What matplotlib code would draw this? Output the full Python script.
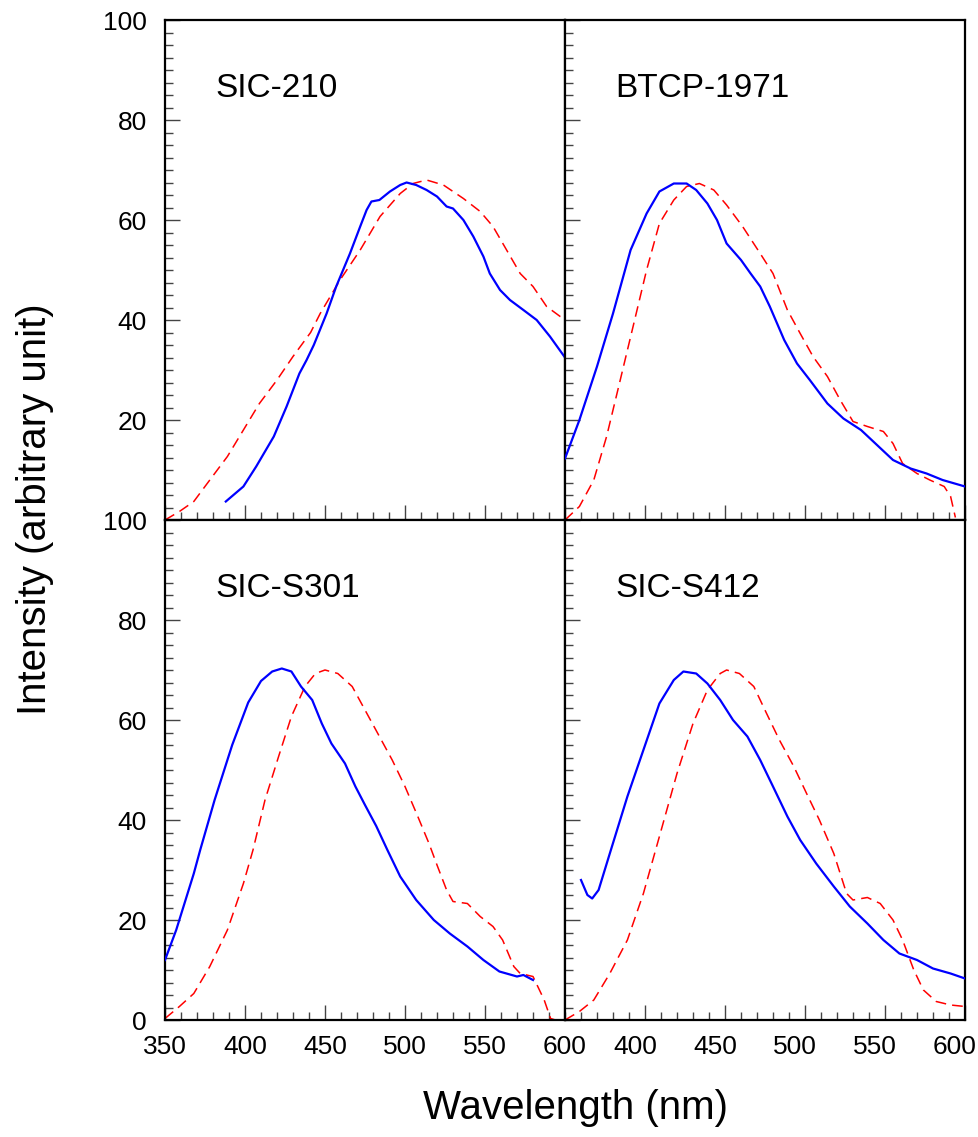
import numpy as np
import matplotlib
matplotlib.use("Agg")
import matplotlib.pyplot as plt
from matplotlib.ticker import MultipleLocator, FixedLocator
from matplotlib.transforms import ScaledTranslation

plt.rcParams['font.family'] = ['Liberation Sans', 'DejaVu Sans']

# Panel names
names = ['SIC-210', 'BTCP-1971', 'SIC-S301', 'SIC-S412']

# SIC-210: measured (blue) and reference (red) spectra
sic210_wl = [388, 399, 407, 418, 426, 434, 438.5, 443, 451, 457, 465.6, 472, 476, 479, 484,
             490.6, 497, 501, 507, 513.5, 520, 526, 530, 536.5, 542.7, 549, 553, 559.4,
             565.6, 574, 582.3, 590.6, 600]
sic210_i = [3.7, 6.7, 10.7, 16.7, 22.7, 29.3, 32, 35, 41.3, 46.7, 53.3, 58.7, 62, 63.7, 64,
            65.7, 67, 67.5, 67, 66, 64.7, 62.7, 62.3, 60, 56.7, 52.7, 49.3, 46,
            44, 42, 40, 36.7, 32.5]
sic210_ref_wl = [350, 359, 368, 378, 389, 399, 409, 420, 430, 441, 447, 459.4, 472, 484.4,
                 497, 505, 513.5, 524, 536.5, 547, 555, 563.5, 572, 580, 588.5, 597, 600]
sic210_ref_i = [0, 1.7, 3.7, 8, 12.7, 18, 23.3, 28, 32.7, 37.5, 41.3, 48, 54, 60.7,
                65.3, 67.3, 68, 67, 64.3, 61.7, 58.7, 54, 49.3, 46.7, 42.7, 40.7, 40.3]

# BTCP-1971
btcp_wl = [350, 359, 370, 380, 391, 401, 409, 418, 426, 432, 439, 445, 451, 460, 466,
           472, 478, 487, 495, 503, 514, 524, 535, 545, 555, 566, 576, 586, 600]
btcp_i = [12.3, 20, 30.7, 41.3, 54, 61.3, 65.7, 67.3, 67.3, 66, 63.3, 60, 55.3, 52, 49.3,
          46.7, 42.7, 36, 31.3, 28, 23.3, 20.3, 18, 15, 12, 10.3, 9.3, 8, 6.7]
btcp_ref_wl = [350, 359, 368, 376, 384, 393, 401, 409, 418, 426, 434, 443, 451, 461, 472,
               480, 489, 497, 505, 514, 522, 530, 539, 549, 555, 561, 570, 578, 587, 591, 594]
btcp_ref_i = [0, 2.7, 8, 16.7, 27.3, 39.3, 50, 59.3, 64, 66.7, 67.3, 66, 63, 58.7, 53.3,
              49.3, 42, 37.3, 32.7, 28.7, 24, 19.7, 18.7, 17.7, 15.3, 11.3, 9.3, 8, 6.7, 4.7, 0.5]

# SIC-S301
s301_wl = [350, 357, 368, 372, 381, 392, 402, 410, 417, 423, 429, 435, 442, 448, 454,
           462.5, 469, 475, 482, 489, 497, 507, 518, 528, 539, 549, 559, 570, 574, 580]
s301_i = [12, 18, 29.3, 34, 44, 55, 63.5, 67.8, 69.7, 70.3, 69.7, 66.7, 64, 59.3, 55.3,
          51.3, 46.7, 43, 38.8, 34, 28.7, 24, 20, 17.3, 14.7, 12, 9.7, 8.7, 9, 8]
s301_ref_wl = [350, 359, 368, 378, 389, 399, 405, 412.5, 421, 429, 437.5, 444, 450, 458,
               467, 475, 483, 492, 500, 508, 515, 520, 526, 530, 539, 547, 555, 561, 568,
               572, 580, 587, 591, 594]
s301_ref_i = [0.3, 2.7, 5.3, 10.7, 18, 27.3, 34, 44, 52.7, 60.7, 66.7, 69.3, 70, 69.3,
              66.7, 62, 57.3, 52, 46.7, 40.7, 35.3, 31, 26, 23.7, 23.3, 20.7, 18.7, 16, 10.7,
              9.3, 8.7, 4, 0.3, 0]

# SIC-S412
s412_wl = [360, 364, 367, 371, 378, 389, 399, 409, 418, 424, 432, 439, 447, 455, 464,
           472, 480, 489, 497, 507, 518, 528, 539, 549, 559, 570, 580, 591, 600]
s412_i = [28, 25, 24.3, 26, 33.3, 44.7, 54, 63.3, 68, 69.7, 69.3, 67.3, 64, 60, 56.7,
          52, 46.7, 40.7, 36, 31.3, 26.7, 22.7, 19.3, 16, 13.3, 12, 10.3, 9.3, 8.3]
s412_ref_wl = [350, 359, 368, 378, 389, 399, 409, 420, 430, 439, 447, 451, 459, 468, 476,
               484, 493, 501, 509, 518, 526, 530, 539, 547, 555, 561, 568, 574, 582, 591, 600]
s412_ref_i = [0, 1.7, 4, 9.3, 16, 25.3, 36.7, 49.3, 59.3, 66, 69.3, 70, 69.3, 66.7, 61.3,
              56, 50.7, 45.3, 40, 33.3, 25.3, 24, 24.5, 23.3, 20, 16, 10, 6, 3.7, 3, 2.7]

blue_sets = [(sic210_wl, sic210_i), (btcp_wl, btcp_i), (s301_wl, s301_i), (s412_wl, s412_i)]
red_sets = [(sic210_ref_wl, sic210_ref_i), (btcp_ref_wl, btcp_ref_i),
            (s301_ref_wl, s301_ref_i), (s412_ref_wl, s412_ref_i)]

W, H = 979, 1137
fig = plt.figure(figsize=(W / 100, H / 100), dpi=100)

# panel boxes in pixels: (left, top)
boxes = [(165, 20), (565, 20), (165, 520), (565, 520)]
pw, ph = 400, 500

for k in range(4):
    l, t = boxes[k]
    ax = fig.add_axes([l / W, (H - t - ph) / H, pw / W, ph / H])
    bx, by = blue_sets[k]
    rx, ry = red_sets[k]
    ax.plot(rx, ry, color='red', lw=1.1, dashes=(7, 4), zorder=2)
    ax.plot(bx, by, color='blue', lw=1.6, zorder=3)
    ax.set_xlim(350, 600)
    ax.set_ylim(0, 100)
    ax.xaxis.set_major_locator(MultipleLocator(50))
    ax.xaxis.set_minor_locator(MultipleLocator(10))
    ax.yaxis.set_major_locator(MultipleLocator(20))
    ax.yaxis.set_minor_locator(MultipleLocator(2.5))
    ax.tick_params(which='both', direction='in', top=False, right=False,
                   labelsize=19, width=1, color='#444444')
    ax.tick_params(which='major', length=11)
    ax.tick_params(which='minor', length=5.5)
    ax.tick_params(axis='y', pad=13)
    ax.tick_params(axis='x', pad=11)
    for s in ax.spines.values():
        s.set_linewidth(1.6)
    ax.text(0.125, 0.846, names[k], transform=ax.transAxes, fontsize=24,
            ha='left', va='baseline')

    if k in (1, 3):
        ax.set_yticklabels([])
    if k in (0, 1):
        ax.set_xticklabels([])
    if k == 0:
        ax.yaxis.set_major_locator(FixedLocator([20, 40, 60, 80, 100]))
    if k == 3:
        ax.xaxis.set_major_locator(FixedLocator([400, 450, 500, 550, 600]))
        shift = ScaledTranslation(-10 / 100, 0, fig.dpi_scale_trans)
        for lab in ax.get_xticklabels():
            lab.set_transform(lab.get_transform() + shift)

fig.text(35 / W, 1 - 509 / H, 'Intensity (arbitrary unit)', rotation=90,
         fontsize=29, ha='center', va='center')
fig.text(576 / W, 1 - 1108 / H, 'Wavelength (nm)', fontsize=29,
         ha='center', va='center')

fig.savefig('out.png', dpi=100, facecolor='white')
